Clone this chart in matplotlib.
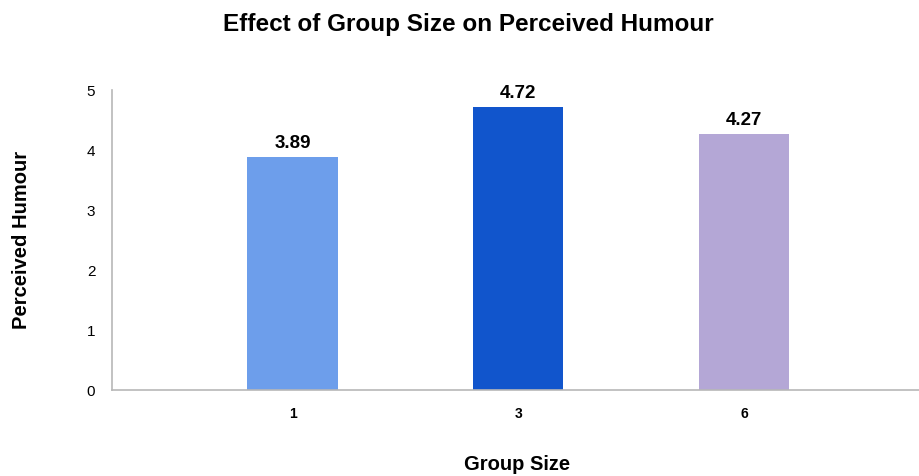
import matplotlib
matplotlib.use('Agg')
import matplotlib.pyplot as plt

plt.rcParams['font.family'] = ['Liberation Sans', 'DejaVu Sans']

groups = ['1', '3', '6']
humour = [3.89, 4.72, 4.27]
colors = ['#6d9eeb', '#1155cc', '#b4a7d6']

fig = plt.figure(figsize=(9.2, 4.76), dpi=100)
ax = fig.add_axes([112/920, 1-390/476, 1-112/920, 300/476])

x = range(len(groups))
bars = ax.bar(x, humour, width=0.4, color=colors, zorder=2)
for b, v in zip(bars, humour):
    ax.text(b.get_x() + b.get_width()/2, v + 0.08, '%.2f' % v,
            ha='center', va='bottom', fontsize=13.5, fontweight='bold')

ax.set_xlim(-0.8, 2.78)
ax.set_ylim(0, 5)
ax.set_yticks(range(6))
ax.set_xticks(list(x))
ax.set_xticklabels(groups, fontweight='bold', fontsize=10)
ax.tick_params(axis='y', length=0, pad=12, labelsize=11)
ax.tick_params(axis='x', length=0, pad=12)
for s in ['top', 'right']:
    ax.spines[s].set_visible(False)
for s in ['left', 'bottom']:
    ax.spines[s].set_color('#b7b7b7')
    ax.spines[s].set_linewidth(1.2)

fig.text(517/920, 1-464/476, 'Group Size', ha='center', va='center',
         fontweight='bold', fontsize=14.5)
fig.text(22/920, 1-240/476, 'Perceived Humour', rotation=90, ha='center', va='center',
         fontweight='bold', fontsize=14.5)
fig.text(468/920, 1-25/476, 'Effect of Group Size on Perceived Humour', ha='center', va='center',
         fontweight='bold', fontsize=17.5)

fig.savefig('out.png', dpi=100)
